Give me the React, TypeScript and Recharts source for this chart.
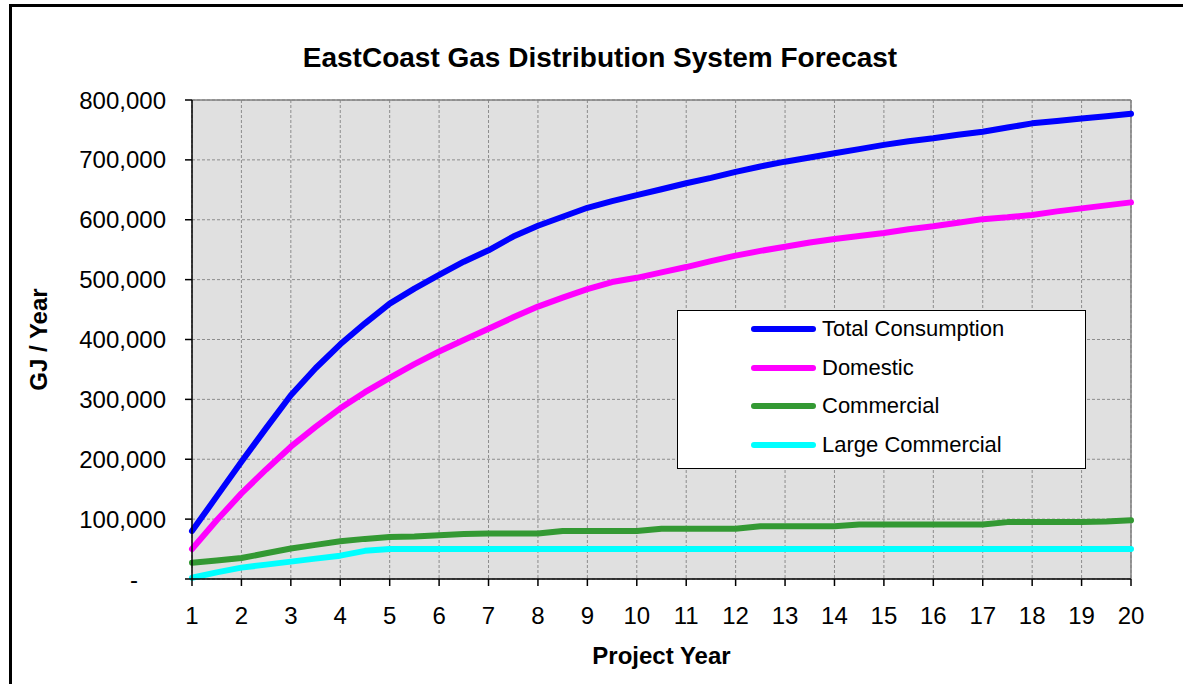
import React from 'react';
import { CartesianGrid, Line, LineChart, ReferenceLine, XAxis, YAxis, Label } from 'recharts';

const FONT = '"Liberation Sans", Arial, sans-serif';

// project years, half-year steps
const years = [
  1, 1.5, 2, 2.5, 3, 3.5, 4, 4.5, 5, 5.5, 6, 6.5, 7, 7.5, 8, 8.5, 9, 9.5, 10, 10.5,
  11, 11.5, 12, 12.5, 13, 13.5, 14, 14.5, 15, 15.5, 16, 16.5, 17, 17.5, 18, 18.5, 19, 19.5, 20,
];

const totalConsumption = [
  80000, 138000, 196000, 252000, 307000, 352000, 392000, 427000, 460000, 485000, 508000, 530000,
  549000, 572000, 590000, 605000, 620000, 631000, 641000, 651000, 661000, 670000, 680000, 689000,
  697000, 704000, 711000, 718000, 725000, 731000, 736000, 742000, 747000, 754000, 761000, 765000,
  769000, 773000, 777000,
];

const domestic = [
  50000, 98000, 143000, 183000, 221000, 254000, 285000, 312000, 336000, 359000, 380000, 399000,
  418000, 437000, 455000, 470000, 484000, 496000, 503000, 512000, 521000, 531000, 540000, 548000,
  555000, 562000, 568000, 573000, 578000, 584000, 589000, 595000, 601000, 604000, 608000, 614000,
  619000, 624000, 629000,
];

const commercial = [
  27000, 31000, 35000, 43000, 51000, 57000, 63000, 67000, 70000, 71000, 73000, 75000, 76000, 76000,
  76000, 80000, 80000, 80000, 80000, 84000, 84000, 84000, 84000, 88000, 88000, 88000, 88000, 91000,
  91000, 91000, 91000, 91000, 91000, 95000, 95000, 95000, 95000, 96000, 98000,
];

const largeCommercial = [
  2000, 11000, 19000, 24000, 29000, 34000, 39000, 47000, 50000, 50000, 50000, 50000, 50000, 50000,
  50000, 50000, 50000, 50000, 50000, 50000, 50000, 50000, 50000, 50000, 50000, 50000, 50000, 50000,
  50000, 50000, 50000, 50000, 50000, 50000, 50000, 50000, 50000, 50000, 50000,
];

const xTicks = [1, 2, 3, 4, 5, 6, 7, 8, 9, 10, 11, 12, 13, 14, 15, 16, 17, 18, 19, 20];
const yTicks = [0, 100000, 200000, 300000, 400000, 500000, 600000, 700000, 800000];

const series = [
  { key: 'total', name: 'Total Consumption', color: '#0000FF', values: totalConsumption },
  { key: 'domestic', name: 'Domestic', color: '#FF00FF', values: domestic },
  { key: 'commercial', name: 'Commercial', color: '#339933', values: commercial },
  { key: 'large', name: 'Large Commercial', color: '#00FFFF', values: largeCommercial },
];

const data = years.map((year, i) => {
  const row: Record<string, number> = { year };
  series.forEach((s) => {
    row[s.key] = s.values[i];
  });
  return row;
});

const YTick = (props: any) => {
  const { x, y, payload } = props;
  const v = payload.value as number;
  if (v === 0) {
    return (
      <text x={x - 28} y={y} dy="0.355em" textAnchor="end" fontSize={24} fontFamily={FONT} fill="#000">
        -
      </text>
    );
  }
  return (
    <text x={x} y={y} dy="0.355em" textAnchor="end" fontSize={24} fontFamily={FONT} fill="#000">
      {v.toLocaleString('en-US')}
    </text>
  );
};

export default function App() {
  return (
    <div
      style={{
        position: 'absolute',
        left: 0,
        top: 0,
        width: 1183,
        height: 684,
        overflow: 'hidden',
        background: '#fff',
        fontFamily: FONT,
      }}
    >
      <div
        style={{
          position: 'absolute',
          left: 9,
          top: 4,
          width: 1300,
          height: 800,
          border: '3px solid #000',
        }}
      />
      <div
        style={{
          position: 'absolute',
          left: 0,
          width: 1200,
          top: 40,
          textAlign: 'center',
          fontSize: 28,
          fontWeight: 'bold',
          color: '#000',
          lineHeight: '36px',
        }}
      >
        EastCoast Gas Distribution System Forecast
      </div>
      <div style={{ position: 'absolute', left: 0, top: 0 }}>
        <LineChart
          width={1183}
          height={684}
          data={data}
          margin={{ top: 100, right: 52, bottom: 10, left: 0 }}
        >
          <CartesianGrid fill="#E0E0E0" stroke="#8c8c8c" strokeDasharray="3 2" />
          <XAxis
            dataKey="year"
            type="number"
            domain={[1, 20]}
            ticks={xTicks}
            interval={0}
            height={95}
            tickSize={7}
            tickMargin={21}
            axisLine={{ stroke: '#000', strokeWidth: 1.5 }}
            tickLine={{ stroke: '#000', strokeWidth: 1.5 }}
            tick={{ fontSize: 24, fontFamily: FONT, fill: '#000' }}
          >
            <Label
              value="Project Year"
              position="insideBottom"
              offset={10}
              style={{ fontSize: 24, fontWeight: 'bold', fontFamily: FONT, fill: '#000' }}
            />
          </XAxis>
          <YAxis
            domain={[0, 800000]}
            ticks={yTicks}
            interval={0}
            width={192}
            tickSize={7}
            tickMargin={19}
            axisLine={{ stroke: '#000', strokeWidth: 1.5 }}
            tickLine={{ stroke: '#000', strokeWidth: 1.5 }}
            tick={<YTick />}
          >
            <Label
              value="GJ / Year"
              angle={-90}
              position="insideLeft"
              offset={38}
              style={{ fontSize: 24, fontWeight: 'bold', fontFamily: FONT, fill: '#000', textAnchor: 'middle' }}
            />
          </YAxis>
          <ReferenceLine y={800000} stroke="#808080" strokeWidth={1.5} />
          <ReferenceLine x={20} stroke="#808080" strokeWidth={1.5} />
          {series.map((s) => (
            <Line
              key={s.key}
              dataKey={s.key}
              name={s.name}
              type="linear"
              stroke={s.color}
              strokeWidth={6}
              strokeLinecap="round"
              strokeLinejoin="round"
              dot={false}
              activeDot={false}
              isAnimationActive={false}
            />
          ))}
        </LineChart>
      </div>
      <div
        style={{
          position: 'absolute',
          left: 677,
          top: 310,
          width: 407,
          height: 157,
          background: '#fff',
          border: '1px solid #000',
          boxSizing: 'content-box',
        }}
      >
        {series.map((s, i) => (
          <div
            key={s.key}
            style={{
              position: 'absolute',
              left: 73,
              top: 3 + i * 38.5,
              height: 30,
              display: 'flex',
              alignItems: 'center',
              whiteSpace: 'nowrap',
            }}
          >
            <span
              style={{
                display: 'inline-block',
                width: 65,
                height: 6,
                borderRadius: 3,
                background: s.color,
                marginRight: 6,
              }}
            />
            <span style={{ fontSize: 22, color: '#000' }}>{s.name}</span>
          </div>
        ))}
      </div>
    </div>
  );
}
